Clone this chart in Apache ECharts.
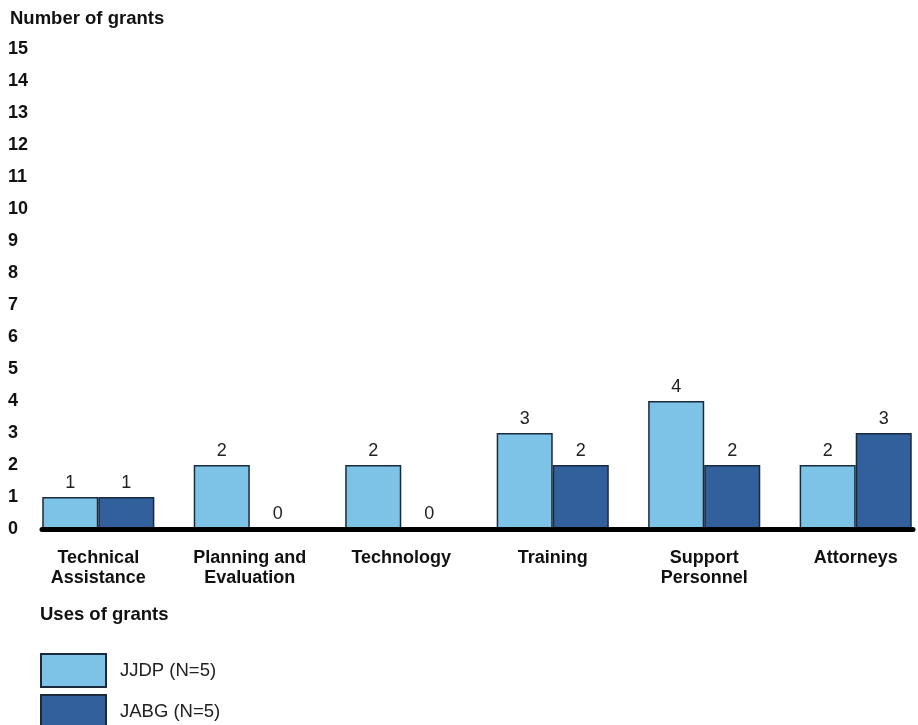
<!DOCTYPE html>
<html>
<head>
<meta charset="utf-8">
<script src="https://cdn.jsdelivr.net/npm/echarts@6/dist/echarts.min.js"></script>
<style>html,body{margin:0;padding:0;background:#fff;}#chart{width:918px;height:725px;}</style>
</head>
<body>
<div id="chart"></div>
<script>
var categories = ['Technical\nAssistance', 'Planning and\nEvaluation', 'Technology', 'Training', 'Support\nPersonnel', 'Attorneys'];
var jjdpValues = [1, 2, 2, 3, 4, 2];
var jabgValues = [1, 0, 0, 2, 2, 3];
var seriesNames = ['JJDP (N=5)', 'JABG (N=5)'];
var yTicks = [0, 15, 1];

var FONT = "'Liberation Sans', Arial, sans-serif";
var chart = echarts.init(document.getElementById('chart'), null, {renderer: 'canvas'});
var barLabel = {show: true, position: 'top', distance: 5, fontFamily: FONT, fontSize: 18, color: '#222'};
var legendBase = {
  orient: 'vertical', left: 40, padding: 0,
  itemWidth: 65, itemHeight: 33, icon: 'rect',
  textStyle: {fontFamily: FONT, fontSize: 18.5, color: '#222', padding: [0, 0, 0, 9]}
};
chart.setOption({
  backgroundColor: '#fff',
  animation: false,
  title: [
    {text: 'Number of grants', left: 10, top: 9, padding: 0, textStyle: {fontFamily: FONT, fontSize: 18.5, fontWeight: 'bold', color: '#111'}},
    {text: 'Uses of grants', left: 40, top: 605, padding: 0, textStyle: {fontFamily: FONT, fontSize: 18.5, fontWeight: 'bold', color: '#111'}}
  ],
  legend: [
    Object.assign({}, legendBase, {top: 653, data: [seriesNames[0]]}),
    Object.assign({}, legendBase, {top: 694, data: [seriesNames[1]]})
  ],
  grid: [
    {left: 98.3, right: 62.3, top: 49, bottom: 196},
    {left: 42, right: 5, top: 49, bottom: 196}
  ],
  xAxis: [
    {type: 'category', gridIndex: 0, data: categories, boundaryGap: false,
     axisLine: {show: false}, axisTick: {show: false},
     axisLabel: {margin: 19, fontFamily: FONT, fontSize: 18, fontWeight: 'bold', color: '#111', lineHeight: 20, interval: 0}},
    {type: 'value', gridIndex: 1, min: 0, max: 1, show: true, z: 20,
     axisLine: {show: true, onZero: false, lineStyle: {color: '#000', width: 5}},
     axisTick: {show: false}, axisLabel: {show: false}, splitLine: {show: false}}
  ],
  yAxis: [
    {type: 'value', gridIndex: 0, min: yTicks[0], max: yTicks[1], interval: yTicks[2], show: false},
    {type: 'value', gridIndex: 1, min: yTicks[0], max: yTicks[1], interval: yTicks[2],
     axisLine: {show: false}, axisTick: {show: false}, splitLine: {show: false},
     axisLabel: {align: 'left', margin: 34, fontFamily: FONT, fontSize: 18, fontWeight: 'bold', color: '#111'}}
  ],
  series: [
    {name: seriesNames[0], type: 'bar', xAxisIndex: 0, yAxisIndex: 0, data: jjdpValues, clip: false,
     barGap: '0%', barCategoryGap: '26%',
     itemStyle: {color: '#7dc3e7', borderColor: '#1a2a3c', borderWidth: 1.5}, label: barLabel},
    {name: seriesNames[1], type: 'bar', xAxisIndex: 0, yAxisIndex: 0, data: jabgValues, clip: false,
     barGap: '0%', barCategoryGap: '26%',
     itemStyle: {color: '#31609d', borderColor: '#1a2a3c', borderWidth: 1.5}, label: barLabel}
  ]
});
</script>
</body>
</html>
